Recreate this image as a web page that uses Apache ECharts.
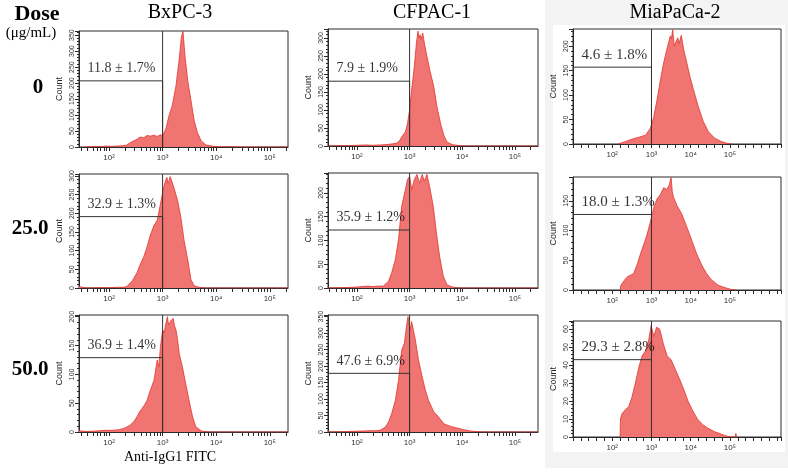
<!DOCTYPE html>
<html><head><meta charset="utf-8">
<script src="https://cdn.jsdelivr.net/npm/echarts@6/dist/echarts.min.js"></script>
<style>html,body{margin:0;padding:0;background:#fff}#c{width:788px;height:475px}</style>
</head><body><div id="c"></div>
<script>
// ---------------- data ----------------
const cellLines = ['BxPC-3', 'CFPAC-1', 'MiaPaCa-2'];
const doses = ['0', '25.0', '50.0'];
const xTickExps = [2, 3, 4, 5];
const xTickLabels = ['10²', '10³', '10⁴', '10⁵'];

// histograms: [log10(Anti-IgG1 FITC), count]
const bxpc3_0 = [[1.55,0],[1.65,1],[1.75,2],[1.85,1],[1.95,3],[2.05,2],[2.15,3],[2.25,4],[2.33,6],[2.40,14],[2.46,19],[2.52,24],[2.58,31],[2.65,29],[2.71,36],[2.77,34],[2.84,37],[2.90,33],[2.96,38],[3.00,35],[3.06,56],[3.12,98],[3.18,129],[3.25,192],[3.31,275],[3.35,343],[3.38,362],[3.42,281],[3.47,207],[3.53,145],[3.59,82],[3.65,45],[3.72,19],[3.81,6],[3.96,2],[4.1,1],[4.3,1],[4.5,0],[5.34,0]];
const bxpc3_25 = [[1.44,4],[1.47,8],[1.5,2],[1.6,0],[1.8,1],[2.0,1],[2.2,2],[2.27,2],[2.33,4],[2.43,18],[2.52,40],[2.58,62],[2.65,84],[2.71,110],[2.77,141],[2.84,168],[2.90,181],[2.96,225],[3.02,269],[3.05,285],[3.08,296],[3.10,280],[3.12,287],[3.14,298],[3.16,291],[3.21,269],[3.28,234],[3.34,190],[3.40,128],[3.47,75],[3.53,22],[3.59,6],[3.68,2],[3.8,0],[5.34,0]];
const bxpc3_50 = [[1.44,2],[1.6,1],[1.8,2],[1.95,3],[2.08,3],[2.18,4],[2.27,6],[2.34,9],[2.40,12],[2.46,18],[2.52,26],[2.57,35],[2.62,41],[2.67,48],[2.71,55],[2.77,72],[2.84,90],[2.90,125],[2.93,113],[2.96,148],[3.00,177],[3.03,172],[3.06,188],[3.09,200],[3.11,186],[3.13,183],[3.16,194],[3.20,197],[3.22,185],[3.25,177],[3.28,160],[3.31,136],[3.37,113],[3.43,84],[3.50,52],[3.56,26],[3.62,9],[3.72,2],[3.85,0],[5.34,0]];
const cfpac1_0 = [[1.45,0],[1.6,1],[1.8,1],[2.0,2],[2.18,3],[2.3,2],[2.45,3],[2.57,4],[2.68,6],[2.76,8],[2.81,15],[2.85,25],[2.92,39],[2.96,62],[3.00,100],[3.04,156],[3.09,221],[3.13,286],[3.16,319],[3.18,300],[3.20,309],[3.22,296],[3.25,314],[3.28,286],[3.33,249],[3.39,207],[3.46,165],[3.52,109],[3.59,62],[3.65,30],[3.71,11],[3.81,4],[3.95,1],[4.1,0],[5.44,0]];
const cfpac1_25 = [[1.45,0],[1.8,1],[2.0,2],[2.2,4],[2.3,3],[2.4,4],[2.50,4],[2.60,14],[2.66,32],[2.73,60],[2.79,102],[2.85,172],[2.92,207],[2.96,228],[3.00,235],[3.04,207],[3.09,228],[3.14,239],[3.19,221],[3.24,239],[3.28,225],[3.33,239],[3.38,214],[3.45,172],[3.51,116],[3.57,67],[3.64,25],[3.71,7],[3.81,2],[3.95,0],[5.44,0]];
const cfpac1_50 = [[1.45,2],[1.5,0],[1.7,1],[1.9,2],[2.1,3],[2.25,4],[2.35,4],[2.44,5],[2.54,15],[2.60,30],[2.66,56],[2.73,96],[2.79,157],[2.85,248],[2.90,269],[2.94,319],[2.97,350],[3.01,309],[3.04,335],[3.06,340],[3.11,279],[3.17,218],[3.24,167],[3.30,127],[3.36,96],[3.46,61],[3.55,46],[3.65,25],[3.78,17],[3.90,12],[4.03,7],[4.16,3],[4.3,1],[4.45,0],[5.44,0]];
const miapaca2_0 = [[2.15,0],[2.18,2],[2.34,5],[2.51,10],[2.68,14],[2.85,18],[2.97,32],[3.06,56],[3.14,90],[3.23,132],[3.31,166],[3.39,193],[3.48,221],[3.51,215],[3.54,234],[3.58,200],[3.61,207],[3.67,217],[3.70,205],[3.76,222],[3.82,193],[3.90,166],[3.98,138],[4.07,111],[4.19,77],[4.32,46],[4.45,25],[4.61,12],[4.78,5],[4.95,1],[5.05,0]];
const miapaca2_25 = [[2.2,0],[2.22,8],[2.26,11],[2.34,19],[2.40,23],[2.47,25],[2.55,28],[2.64,44],[2.72,61],[2.81,78],[2.89,94],[2.97,114],[3.06,139],[3.14,153],[3.23,161],[3.31,172],[3.39,169],[3.45,176],[3.50,189],[3.53,165],[3.56,156],[3.65,142],[3.77,128],[3.90,106],[4.03,83],[4.15,61],[4.28,42],[4.40,28],[4.53,17],[4.70,8],[4.87,4],[5.03,1],[5.15,0]];
const miapaca2_50 = [[2.2,0],[2.21,10],[2.25,13],[2.33,15],[2.42,17],[2.50,22],[2.59,30],[2.68,39],[2.76,45],[2.85,48],[2.93,54],[2.99,62],[3.06,56],[3.13,61],[3.21,60],[3.30,52],[3.40,45],[3.50,43],[3.62,37],[3.72,32],[3.83,26],[3.93,20],[4.04,15],[4.17,10],[4.30,7],[4.43,5],[4.60,3],[4.85,1],[5.0,0],[5.13,0],[5.15,2],[5.17,0]];

// gate annotations (rows = dose, cols = cell line)
const gatePercent = [
  ['11.8 ± 1.7%', '7.9 ± 1.9%', '4.6 ± 1.8%'],
  ['32.9 ± 1.3%', '35.9 ± 1.2%', '18.0 ± 1.3%'],
  ['36.9 ± 1.4%', '47.6 ± 6.9%', '29.3 ± 2.8%']
];
const gateCount = [
  [207, 180, 157],
  [191, 122, 127],
  [129, 178, 43]
];
const gateLog = [
  [3.0, 3.0, 3.0],
  [3.0, 3.0, 3.0],
  [3.0, 3.0, 3.0]
];

const hist = [
  [bxpc3_0, cfpac1_0, miapaca2_0],
  [bxpc3_25, cfpac1_25, miapaca2_25],
  [bxpc3_50, cfpac1_50, miapaca2_50]
];

// ---------------- layout ----------------
const colLayout = [
  { left: 79, width: 209, xMin: 1.44, xMax: 5.34, logTicks: true, font: 14 },
  { left: 328, width: 210, xMin: 1.45, xMax: 5.44, logTicks: true, font: 14 },
  { left: 573, width: 208, xMin: 1, xMax: 6.3, logTicks: false, font: 15 }
];
const panelLayout = [
  [{ top: 31, height: 116, yMax: 363, yInt: 50 }, { top: 29, height: 117, yMax: 325, yInt: 50 }, { top: 29, height: 115, yMax: 235, yInt: 50 }],
  [{ top: 174, height: 114, yMax: 305, yInt: 50 }, { top: 173, height: 115, yMax: 242, yInt: 50 }, { top: 177, height: 113, yMax: 190, yInt: 50 }],
  [{ top: 315, height: 117, yMax: 203, yInt: 50 }, { top: 315, height: 117, yMax: 355, yInt: 50 }, { top: 321, height: 116, yMax: 64.5, yInt: 10 }]
];

const FILL = '#f07471';
const EDGE = '#e2352f';
const AXIS = '#2a2a2a';
const SANS = 'Liberation Sans, Arial, sans-serif';
const SERIF = 'Liberation Serif, Times New Roman, serif';

function logTickValues(min, max) {
  const v = [];
  for (let n = 1; n <= 6; n++) {
    for (let k = 1; k <= 9; k++) {
      const t = n + Math.log10(k);
      if (t > min && t < max) v.push(+t.toFixed(4));
    }
  }
  return v;
}
function xLabel(v) {
  const i = xTickExps.indexOf(Math.round(v * 1000) / 1000);
  return i >= 0 ? xTickLabels[i] : '';
}

const grids = [], xAxes = [], yAxes = [], series = [];
let idx = 0;
for (let r = 0; r < 3; r++) {
  for (let c = 0; c < 3; c++) {
    const cl = colLayout[c], pl = panelLayout[r][c];
    grids.push({
      left: cl.left, width: cl.width, top: pl.top, height: pl.height,
      show: true, borderColor: AXIS, borderWidth: 1, backgroundColor: '#fff'
    });
    const xa = {
      type: 'value', gridIndex: idx, min: cl.xMin, max: cl.xMax,
      splitLine: { show: false },
      axisLine: { show: true, onZero: false, lineStyle: { color: AXIS, width: 1 } },
      axisLabel: { fontSize: 8, color: '#333', fontFamily: SANS, margin: 7, formatter: xLabel }
    };
    if (cl.logTicks) {
      xa.axisTick = { show: true, length: 4, lineStyle: { color: AXIS }, customValues: logTickValues(cl.xMin, cl.xMax) };
      xa.axisLabel.customValues = xTickExps;
    } else {
      xa.interval = 1;
      xa.axisLabel.showMinLabel = false;
      xa.axisLabel.showMaxLabel = false;
      xa.axisTick = { show: true, length: 4, lineStyle: { color: AXIS } };
      xa.minorTick = { show: true, splitNumber: 5, length: 4, lineStyle: { color: AXIS } };
    }
    xAxes.push(xa);
    yAxes.push({
      type: 'value', gridIndex: idx, min: 0, max: pl.yMax, interval: pl.yInt,
      name: 'Count', nameLocation: 'middle', nameGap: 15,
      nameTextStyle: { fontSize: 9, fontFamily: SANS, color: '#222' },
      splitLine: { show: false },
      axisLine: { show: true, lineStyle: { color: AXIS, width: 1 } },
      axisTick: { show: true, length: 4, lineStyle: { color: AXIS } },
      minorTick: { show: true, splitNumber: 5, length: 2, lineStyle: { color: AXIS } },
      axisLabel: {
        rotate: 90, fontSize: 7, color: '#333', fontFamily: SANS, margin: 3,
        formatter: v => (Math.abs(v / pl.yInt - Math.round(v / pl.yInt)) < 1e-6 ? String(v) : '')
      }
    });
    series.push({
      type: 'line', xAxisIndex: idx, yAxisIndex: idx, data: hist[r][c],
      symbol: 'none', showSymbol: false, animation: false, z: 2,
      lineStyle: { color: EDGE, width: 0.8 },
      areaStyle: { color: FILL, opacity: 1 }
    });
    const gy = gateCount[r][c], gx = gateLog[r][c];
    series.push({
      type: 'line', xAxisIndex: idx, yAxisIndex: idx,
      data: [[cl.xMin, gy], [gx, gy], [gx, 0], [gx, pl.yMax]],
      symbol: 'none', animation: false, z: 3,
      lineStyle: { color: '#333', width: 1 }
    });
    series.push({
      type: 'scatter', xAxisIndex: idx, yAxisIndex: idx,
      data: [[cl.xMin, gy]], symbolSize: 1, itemStyle: { color: 'rgba(0,0,0,0)' },
      animation: false, z: 4, silent: true,
      label: {
        show: true, formatter: gatePercent[r][c], position: [9, -12],
        align: 'left', verticalAlign: 'middle',
        fontFamily: SERIF, fontSize: cl.font, color: '#000'
      }
    });
    idx++;
  }
}

const graphics = [
  { type: 'rect', shape: { x: 545, y: 0, width: 243, height: 468 }, style: { fill: '#f3f3f3' }, z: -10 },
  { type: 'rect', shape: { x: 553, y: 25, width: 232, height: 427 }, style: { fill: '#ffffff' }, z: -9 },
  { type: 'text', x: 37, y: 14, style: { text: 'Dose', font: 'bold 22px ' + SERIF, fill: '#000', align: 'center', verticalAlign: 'middle' } },
  { type: 'text', x: 31, y: 33, style: { text: '(μg/mL)', font: '15px ' + SERIF, fill: '#000', align: 'center', verticalAlign: 'middle' } },
  { type: 'text', x: 170, y: 457, style: { text: 'Anti-IgG1 FITC', font: '14px ' + SERIF, fill: '#000', align: 'center', verticalAlign: 'middle' } }
];
const doseCenters = [[38, 88], [30, 229], [30, 370]];
doses.forEach((d, i) => graphics.push({ type: 'text', x: doseCenters[i][0], y: doseCenters[i][1],
  style: { text: d, font: 'bold 21px ' + SERIF, fill: '#000', align: 'center', verticalAlign: 'middle' } }));
const titleCenters = [180, 432, 675];
cellLines.forEach((t, i) => graphics.push({ type: 'text', x: titleCenters[i], y: 13,
  style: { text: t, font: '20px ' + SERIF, fill: '#000', align: 'center', verticalAlign: 'middle' } }));

const chart = echarts.init(document.getElementById('c'), null, { renderer: 'canvas' });
chart.setOption({
  animation: false,
  backgroundColor: '#fff',
  grid: grids, xAxis: xAxes, yAxis: yAxes, series: series,
  graphic: graphics
});
</script></body></html>
